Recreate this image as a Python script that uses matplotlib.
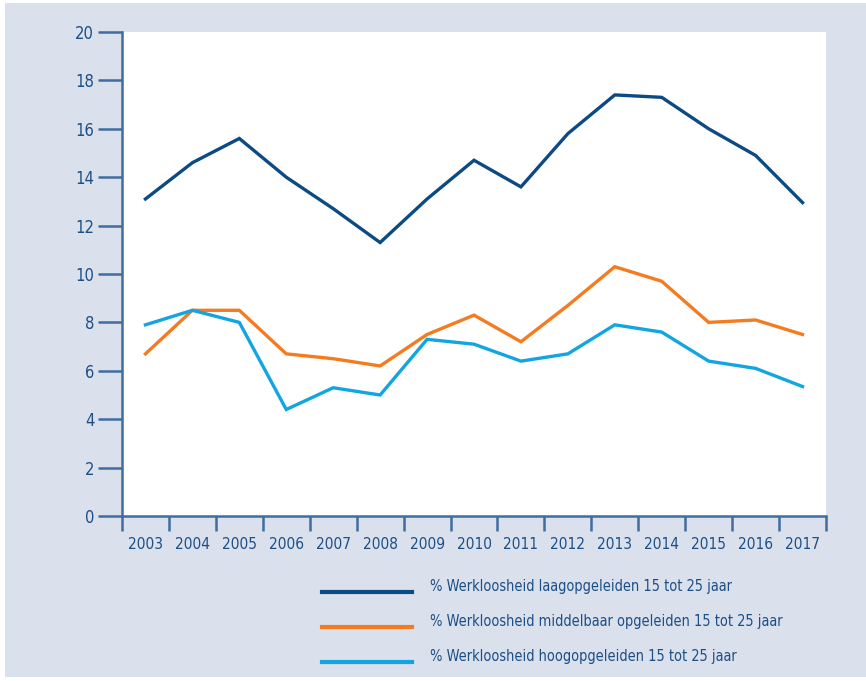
import matplotlib
matplotlib.use("Agg")
import matplotlib.pyplot as plt
from matplotlib.patches import Rectangle
from matplotlib import font_manager
from matplotlib.textpath import TextPath
from matplotlib.font_manager import FontProperties

years = ["2003", "2004", "2005", "2006", "2007", "2008", "2009", "2010",
         "2011", "2012", "2013", "2014", "2015", "2016", "2017"]
laag = [13.1, 14.6, 15.6, 14.0, 12.7, 11.3, 13.1, 14.7, 13.6, 15.8, 17.4, 17.3, 16.0, 14.9, 12.95]
middel = [6.7, 8.5, 8.5, 6.7, 6.5, 6.2, 7.5, 8.3, 7.2, 8.7, 10.3, 9.7, 8.0, 8.1, 7.5]
hoog = [7.9, 8.5, 8.0, 4.4, 5.3, 5.0, 7.3, 7.1, 6.4, 6.7, 7.9, 7.6, 6.4, 6.1, 5.35]
labels = ["% Werkloosheid laagopgeleiden 15 tot 25 jaar",
          "% Werkloosheid middelbaar opgeleiden 15 tot 25 jaar",
          "% Werkloosheid hoogopgeleiden 15 tot 25 jaar"]
colors = ["#0b4a83", "#f47b20", "#12a5e2"]

# pick a condensed font if one is installed
family, stretch = None, "normal"
for f in font_manager.fontManager.ttflist:
    st = f.stretch if isinstance(f.stretch, str) else str(f.stretch)
    if f.style == "normal" and f.weight in (400, "normal", "regular") and (
            "condensed" in st or "Narrow" in f.name or "Condensed" in f.name):
        family, stretch = f.name, st
        break
if family is None:
    names = {f.name for f in font_manager.fontManager.ttflist}
    for cand in ["Roboto", "Lato", "Open Sans", "Liberation Sans", "DejaVu Sans"]:
        if cand in names:
            family = cand
            break
plt.rcParams['font.family'] = [family, "DejaVu Sans"]
plt.rcParams['font.stretch'] = stretch


def width_px(s, size=10):
    fp = FontProperties(family=[family, "DejaVu Sans"], stretch=stretch, size=size)
    return TextPath((0, 0), s, prop=fp).get_extents().width * 100 / 72


# fit font sizes to the text widths measured on the reference
fs = min(15, 10 * 352 / width_px(labels[1]))
fst = min(15, 10 * 33 / width_px(years[0]))
fs_px = fs * 100 / 72

txt = "#1c4f86"
axc = "#3f6d9f"
W, H = 866, 681
fig = plt.figure(figsize=(W / 100, H / 100), dpi=100)
fig.patch.set_facecolor("white")
fig.patches.append(Rectangle((5 / W, 4 / H), 1 - 5 / W, (H - 7) / H, transform=fig.transFigure,
                             facecolor="#dae0ec", edgecolor="none", zorder=-10))

ax = fig.add_axes([122 / W, (H - 516) / H, (826 - 122) / W, (516 - 32) / H])
ax.set_facecolor("white")
x = list(range(len(years)))
for vals, c, lab in zip([laag, middel, hoog], colors, labels):
    ax.plot(x, vals, color=c, lw=2.4, label=lab, solid_joinstyle="miter")

ax.set_xlim(-0.5, len(years) - 0.5)
ax.set_ylim(0, 20)
ax.set_yticks(range(0, 21, 2))
ax.set_xticks([i - 0.5 for i in range(len(years) + 1)])
ax.set_xticklabels([])
ax.set_xticks(x, minor=True)
ax.set_xticklabels(years, minor=True)
ax.tick_params(axis="x", which="minor", length=0, pad=15, labelsize=fst, labelcolor=txt)
ax.tick_params(axis="x", which="major", length=11, width=1.8, color=axc, direction="out")
ax.tick_params(axis="y", length=17, width=1.8, color=axc, labelsize=fst * 1.08, labelcolor=txt, pad=3)
for s in ["top", "right"]:
    ax.spines[s].set_visible(False)
for s in ["left", "bottom"]:
    ax.spines[s].set_color(axc)
    ax.spines[s].set_linewidth(1.8)

leg = fig.legend(loc="upper left", bbox_to_anchor=(322 / W, 1 - 579 / H), frameon=False,
                 fontsize=fs, handlelength=90 / fs_px, handletextpad=18 / fs_px,
                 labelspacing=(36.5 - 1.13 * fs_px) / fs_px, borderaxespad=0, borderpad=0)
for t in leg.get_texts():
    t.set_color(txt)
for ln in leg.get_lines():
    ln.set_linewidth(3)
    ln.set_ydata([v - 4.3 for v in ln.get_ydata()])

fig.savefig("out.png", dpi=100, facecolor=fig.get_facecolor())
